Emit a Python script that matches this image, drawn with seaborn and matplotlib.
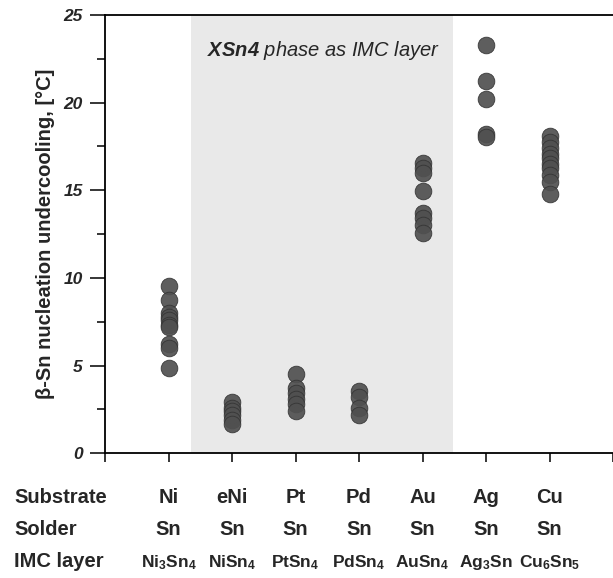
import matplotlib
matplotlib.use("Agg")
import matplotlib.pyplot as plt
import seaborn as sns
import pandas as pd

# ---------------- data ----------------
substrates = ["Ni", "eNi", "Pt", "Pd", "Au", "Ag", "Cu"]
solders = ["Sn", "Sn", "Sn", "Sn", "Sn", "Sn", "Sn"]
imc_layers = [r"Ni$_\mathbf{3}$Sn$_\mathbf{4}$", r"NiSn$_\mathbf{4}$", r"PtSn$_\mathbf{4}$",
              r"PdSn$_\mathbf{4}$", r"AuSn$_\mathbf{4}$", r"Ag$_\mathbf{3}$Sn",
              r"Cu$_\mathbf{6}$Sn$_\mathbf{5}$"]
ni_vals = [9.55, 8.75, 8.0, 7.8, 7.6, 7.3, 7.2, 6.25, 6.0, 4.85]
eni_vals = [2.95, 2.6, 2.4, 2.2, 1.9, 1.65]
pt_vals = [4.5, 3.7, 3.45, 3.1, 2.8, 2.4]
pd_vals = [3.55, 3.2, 2.6, 2.2]
au_vals = [16.55, 16.3, 16.0, 14.95, 13.7, 13.4, 13.0, 12.55]
ag_vals = [23.3, 21.25, 20.2, 18.2, 18.05]
cu_vals = [18.1, 17.75, 17.4, 17.1, 16.85, 16.5, 16.25, 15.9, 15.5, 14.8]
y_ticks = [0, 5, 10, 15, 20, 25]
shade_span = (0.36, 4.48)   # XSn4 group (eNi .. Au)
annotation = r"$\mathbfit{XSn4}$ phase as IMC layer"
ylabel = "β-Sn nucleation undercooling, [°C]"
row_names = ["Substrate", "Solder", "IMC layer"]

series = [ni_vals, eni_vals, pt_vals, pd_vals, au_vals, ag_vals, cu_vals]
df = pd.DataFrame({
    "substrate": [s for s, v in zip(substrates, series) for _ in v],
    "undercooling": [x for v in series for x in v],
})

# ---------------- style ----------------
sns.set_style("white")
plt.rcParams["font.family"] = ["Liberation Sans", "DejaVu Sans"]
plt.rcParams["mathtext.fontset"] = "custom"
plt.rcParams["mathtext.rm"] = "Liberation Sans:bold"
plt.rcParams["mathtext.bf"] = "Liberation Sans:bold"
plt.rcParams["mathtext.it"] = "Liberation Sans:italic"
plt.rcParams["mathtext.bfit"] = "Liberation Sans:italic:bold"

W, H = 613, 578
fig = plt.figure(figsize=(W / 100, H / 100), dpi=100)
ax = fig.add_axes([105 / W, (H - 453.3) / H, 1.0 - 105 / W, 438.3 / H])

ax.axvspan(*shade_span, ymin=0, ymax=1, color="#e9e9e9", zorder=0, lw=0)

sns.stripplot(data=df, x="substrate", y="undercooling", order=substrates,
              jitter=False, size=12, color="#505050", edgecolor="#333333",
              linewidth=0.6, alpha=0.92, ax=ax, zorder=3)

ax.set_xlim(-0.98, 6.93)
ax.set_ylim(0, 25)
ax.set_xlabel("")
ax.set_ylabel(ylabel, fontsize=14.5, fontweight="bold", labelpad=6)

ax.set_xticks(range(-1, 8))
ax.set_xticklabels([])
ax.set_yticks(y_ticks)
ax.set_yticklabels([str(t) for t in y_ticks], fontsize=12.5,
                   fontweight="bold", fontstyle="italic")
ax.set_yticks([2.5, 7.5, 12.5, 17.5, 22.5], minor=True)
ax.tick_params(axis="y", which="major", direction="out", length=11, width=1.1,
               color="black", pad=5, left=True)
ax.tick_params(axis="y", which="minor", direction="out", length=5.5, width=1.1,
               color="black", left=True)
ax.tick_params(axis="x", which="major", direction="out", length=6.5, width=1.1,
               color="black", bottom=True)

for side in ["left", "bottom", "top"]:
    ax.spines[side].set_visible(True)
    ax.spines[side].set_color("black")
    ax.spines[side].set_linewidth(1.3)
ax.spines["right"].set_visible(False)

ax.text(0.61, 23.0, annotation, fontsize=14.5, fontstyle="italic",
        ha="left", va="center", zorder=4)

# ---------------- table beneath ----------------
row_base = [503, 535, 567]
row_sizes = [14.5, 14.5, 12.5]
rows = [substrates, solders, imc_layers]
for name, yb, vals, fs in zip(row_names, row_base, rows, row_sizes):
    fig.text(14 / W, 1 - yb / H, name, fontsize=14.5, fontweight="bold",
             ha="left", va="baseline")
    for i, v in enumerate(vals):
        xd = ax.transData.transform((i, 0))[0]
        xf = fig.transFigure.inverted().transform((xd, 0))[0]
        fig.text(xf, 1 - yb / H, v, fontsize=fs, fontweight="bold",
                 ha="center", va="baseline")

fig.savefig("out.png", dpi=100)
